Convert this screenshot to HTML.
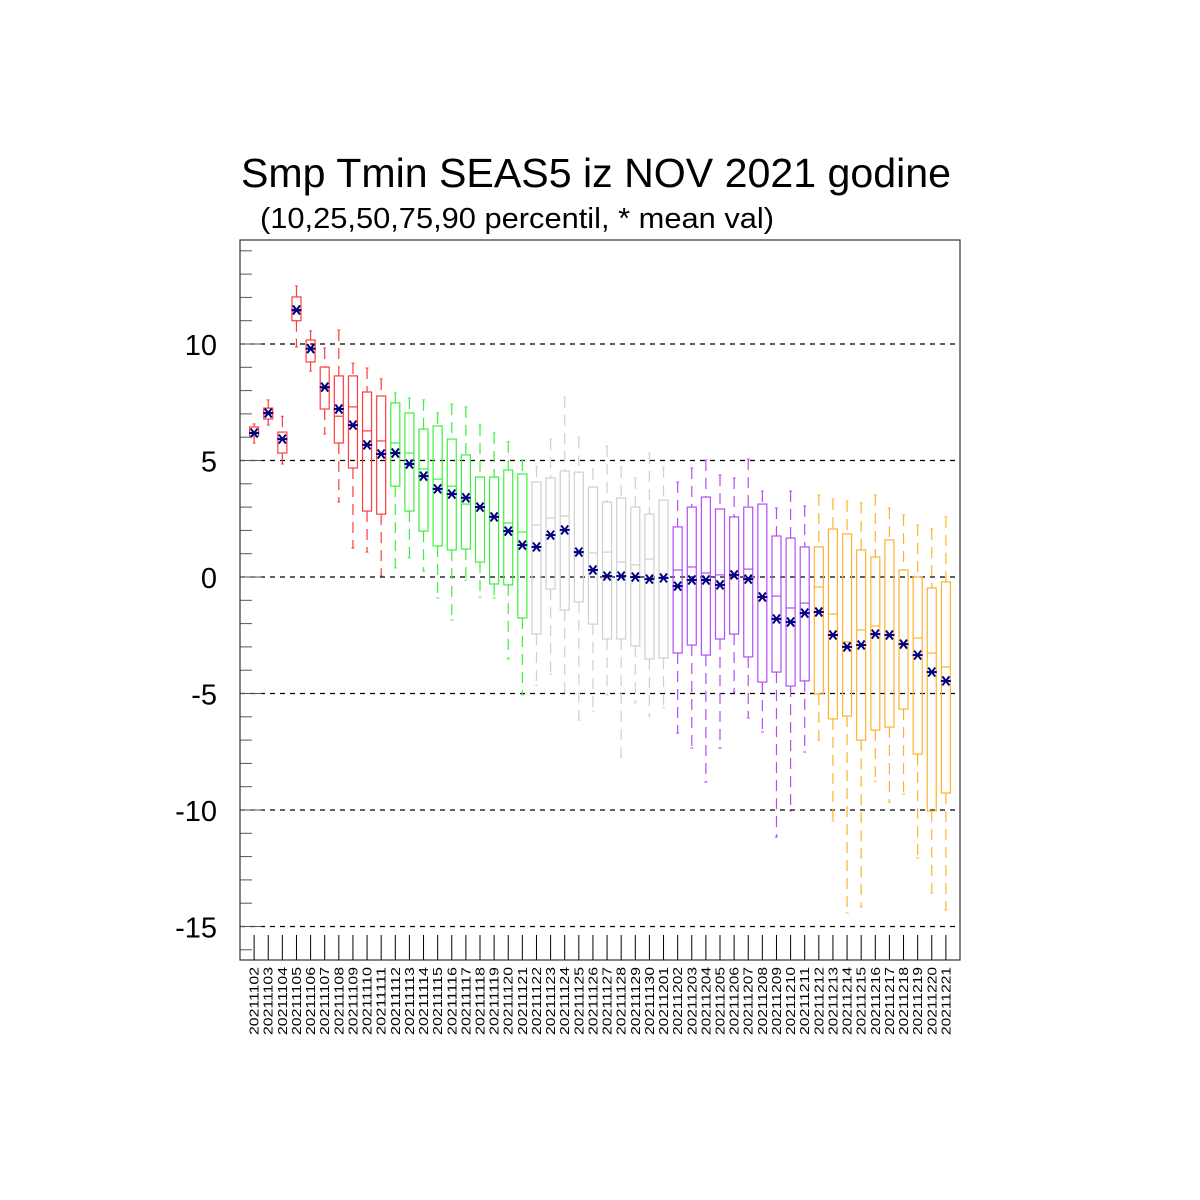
<!DOCTYPE html>
<html><head><meta charset="utf-8"><style>
html,body{margin:0;padding:0;background:#fff;}
svg{display:block;font-family:"Liberation Sans",sans-serif;}
</style></head><body>
<svg id="chart" width="1200" height="1200" viewBox="0 0 1200 1200" xmlns="http://www.w3.org/2000/svg">
<rect width="1200" height="1200" fill="#fff"/>
<text x="596" y="187" font-size="41" text-anchor="middle" textLength="710" lengthAdjust="spacingAndGlyphs">Smp Tmin SEAS5 iz NOV 2021 godine</text>
<text x="260" y="228" font-size="29" textLength="514" lengthAdjust="spacingAndGlyphs">(10,25,50,75,90 percentil, * mean val)</text>
<g id="grid"></g><g id="boxes"></g><g id="axes"></g>
</svg>
<script>
const dates=["20211102","20211103","20211104","20211105","20211106","20211107","20211108","20211109","20211110","20211111","20211112","20211113","20211114","20211115","20211116","20211117","20211118","20211119","20211120","20211121","20211122","20211123","20211124","20211125","20211126","20211127","20211128","20211129","20211130","20211201","20211202","20211203","20211204","20211205","20211206","20211207","20211208","20211209","20211210","20211211","20211212","20211213","20211214","20211215","20211216","20211217","20211218","20211219","20211220","20211221"];
const p90=[6.57,7.6,6.9,12.49,10.56,9.83,10.6,9.18,8.97,8.5,7.9,7.68,7.6,7.04,7.42,7.3,6.52,6.18,5.8,5.02,4.76,5.92,7.73,6.0,4.64,5.62,4.72,4.25,5.32,4.72,4.08,4.68,5.02,4.38,4.25,5.06,3.69,2.96,3.69,3.05,3.52,3.35,3.26,3.18,3.52,2.96,2.66,2.23,2.06,2.58];
const p75=[6.44,7.25,6.22,12.02,10.17,9.01,8.63,8.63,7.94,7.77,7.47,7.04,6.35,6.48,5.92,5.24,4.29,4.29,4.59,4.42,4.08,4.25,4.55,4.5,3.86,3.22,3.39,3.0,2.7,3.3,2.15,3.0,3.43,2.92,2.58,3.0,3.13,1.76,1.67,1.29,1.29,2.06,1.85,1.16,0.86,1.59,0.3,0.0,-0.47,-0.21];
const p50=[6.2,7.0,5.9,11.4,9.8,8.1,6.9,7.3,6.27,5.84,5.75,5.32,4.64,4.2,3.9,3.13,3.0,2.6,2.32,1.93,2.23,2.53,2.62,1.0,1.03,1.07,0.64,0.52,0.77,0.0,0.3,0.43,0.17,0.09,0.09,0.34,-0.86,-0.82,-1.33,-1.12,-0.43,-1.59,-2.79,-2.27,-2.1,-2.5,-2.9,-2.62,-3.26,-3.86];
const p25=[6.05,6.78,5.32,11.0,9.23,7.21,5.75,4.68,2.83,2.7,3.9,2.83,1.97,1.33,1.16,1.2,0.64,-0.3,-0.34,-1.76,-2.45,-0.52,-1.42,-1.07,-2.02,-2.66,-2.66,-2.96,-3.52,-3.48,-3.26,-2.92,-3.35,-2.66,-2.45,-3.43,-4.51,-4.08,-4.68,-4.46,-5.02,-6.09,-5.97,-7.0,-6.57,-6.44,-5.67,-7.6,-10.04,-9.27];
const p10=[5.75,6.52,4.85,9.87,8.84,6.14,3.22,1.24,1.07,0.04,0.39,0.82,0.26,-0.9,-1.85,-0.13,-0.86,-0.9,-3.52,-5.06,-4.64,-4.16,-4.94,-6.14,-5.75,-5.06,-7.73,-5.4,-5.97,-5.62,-6.7,-7.34,-8.8,-7.34,-4.94,-6.05,-6.65,-11.16,-10.04,-7.51,-7.0,-10.47,-14.42,-14.16,-8.76,-9.66,-9.31,-12.06,-13.56,-14.29];
const means=[6.18,7.04,5.92,11.46,9.8,8.15,7.21,6.52,5.67,5.28,5.32,4.85,4.33,3.78,3.56,3.4,3.0,2.58,1.97,1.37,1.29,1.8,2.02,1.07,0.3,0.04,0.04,0.0,-0.09,-0.04,-0.39,-0.13,-0.13,-0.34,0.09,-0.09,-0.86,-1.8,-1.93,-1.55,-1.5,-2.49,-3.0,-2.92,-2.45,-2.49,-2.88,-3.35,-4.08,-4.46];
const yTicks=[10,5,0,-5,-10,-15];
const groupColors=["#ff3b3b","#3cf03c","#cfcfcf","#b44cf2","#ffb22e"];

const NS="http://www.w3.org/2000/svg";
const L=240,R=960,T=240,B=960;
const Y0=577,PPU=23.3;
const y=v=>Y0-v*PPU;
const x=i=>L+(i+1)*(R-L)/(dates.length+1);
function mk(tag,attrs,parent){const e=document.createElementNS(NS,tag);for(const k in attrs)e.setAttribute(k,attrs[k]);parent.appendChild(e);return e;}
const grid=document.getElementById('grid'),boxes=document.getElementById('boxes'),axes=document.getElementById('axes');

yTicks.forEach(v=>{
  const g=mk('line',{x1:L,x2:R,y1:y(v),y2:y(v),stroke:'#000','stroke-width':1.2,'stroke-dasharray':'5,5'},grid);
  
  
  const t=mk('text',{x:217,y:y(v)+11,'font-size':29,'text-anchor':'end'},axes);
  t.textContent=String(v);
  
  
});
for(let v=-16;v<=14;v++){
  const major=v%5===0;
  mk('line',{x1:L,x2:L+(major?22:12),y1:y(v),y2:y(v),stroke:'#555','stroke-width':1},axes);
}
mk('rect',{x:L,y:T,width:R-L,height:B-T,fill:'none',stroke:'#333','stroke-width':1.2},axes);

dates.forEach((d,i)=>{
  const cx=x(i),col=groupColors[Math.floor(i/10)],w=9;
  const g=mk('g',{},boxes);
  
  
  mk('line',{x1:cx,x2:cx,y1:y(p90[i]),y2:y(p75[i]),stroke:col,'stroke-width':1.2,'stroke-dasharray':'11,7'},g);
  mk('line',{x1:cx,x2:cx,y1:y(p25[i]),y2:y(p10[i]),stroke:col,'stroke-width':1.2,'stroke-dasharray':'11,7'},g);
  mk('line',{x1:cx-1.5,x2:cx+1.5,y1:y(p90[i]),y2:y(p90[i]),stroke:col,'stroke-width':1},g);
  mk('line',{x1:cx-1.5,x2:cx+1.5,y1:y(p10[i]),y2:y(p10[i]),stroke:col,'stroke-width':1},g);
  mk('rect',{x:cx-w/2,y:y(p75[i]),width:w,height:y(p25[i])-y(p75[i]),fill:'none',stroke:col,'stroke-width':1.2},g);
  mk('line',{x1:cx-w/2,x2:cx+w/2,y1:y(p50[i]),y2:y(p50[i]),stroke:col,'stroke-width':1.2},g);
  const m=mk('g',{stroke:'#000080','stroke-width':2},g);
  
  
  const my=y(means[i]);
  mk('line',{x1:cx-5,x2:cx+5,y1:my,y2:my},m);
  mk('line',{x1:cx-3.5,x2:cx+3.5,y1:my-4.5,y2:my+4.5},m);
  mk('line',{x1:cx-3.5,x2:cx+3.5,y1:my+4.5,y2:my-4.5},m);
  mk('line',{x1:cx,x2:cx,y1:B-25,y2:B,stroke:'#000','stroke-width':1},axes);
  const t=mk('text',{x:0,y:0,'font-size':13,'text-anchor':'end',textLength:68,lengthAdjust:'spacingAndGlyphs',transform:`translate(${cx+4.5},967) rotate(-90)`},axes);
  t.textContent=d;
  
  
});
</script>
</body></html>
